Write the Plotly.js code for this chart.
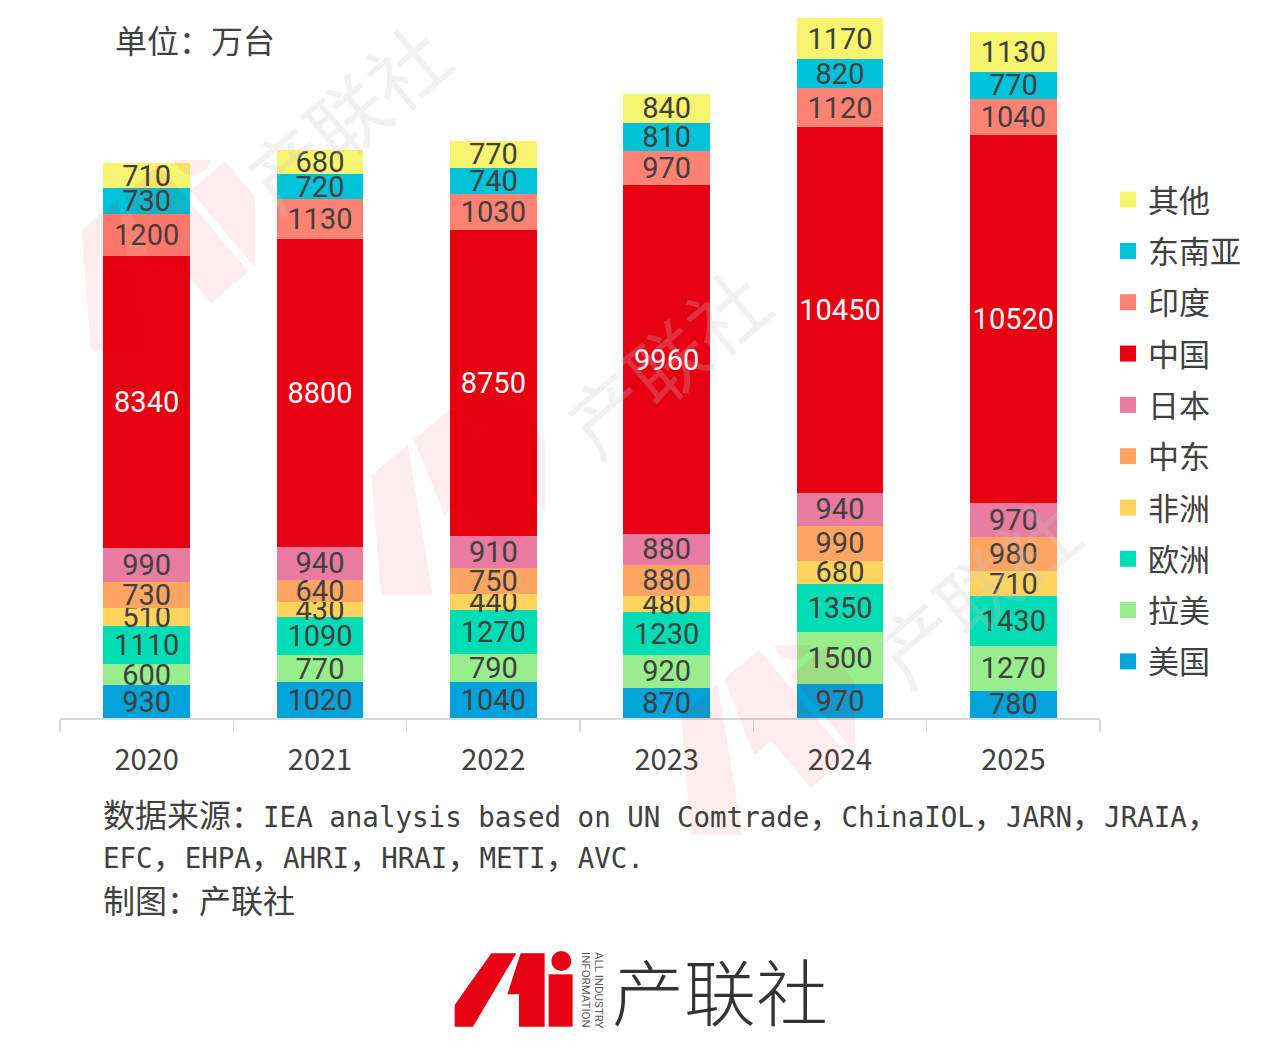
<!DOCTYPE html>
<html>
<head>
<meta charset="utf-8">
<script src="https://cdn.plot.ly/plotly-3.0.1.min.js"></script>
<style>
  html, body { margin: 0; padding: 0; background: #fff; }
  #chart { width: 1268px; height: 1041px; }
</style>
</head>
<body>
<div id="chart"></div>
<script>
// 单位：万台
const years = ['2020', '2021', '2022', '2023', '2024', '2025'];

// stack order, bottom to top
const regions = ['美国', '拉美', '欧洲', '非洲', '中东', '日本', '中国', '印度', '东南亚', '其他'];

const usa         = [930, 1020, 1040, 870, 970, 780];
const latam       = [600, 770, 790, 920, 1500, 1270];
const europe      = [1110, 1090, 1270, 1230, 1350, 1430];
const africa      = [510, 430, 440, 480, 680, 710];
const middleEast  = [730, 640, 750, 880, 990, 980];
const japan       = [990, 940, 910, 880, 940, 970];
const china       = [8340, 8800, 8750, 9960, 10450, 10520];
const india       = [1200, 1130, 1030, 970, 1120, 1040];
const seAsia      = [730, 720, 740, 810, 820, 770];
const others      = [710, 680, 770, 840, 1170, 1130];

const seriesValues = [usa, latam, europe, africa, middleEast, japan, china, india, seAsia, others];
const seriesColors = ['#00A3DA', '#98EE8C', '#00DDB4', '#FFD45E', '#FFA564', '#E87B9F',
                      '#E60012', '#FF8272', '#00C2D8', '#F8F46E'];

const textColor = '#404040';
const cjk = '"Noto Sans CJK SC", "Noto Sans", sans-serif';
const mono = '"DejaVu Sans Mono", monospace';

const traces = [];

// stacked bars, labels kept at full size (uniformtext below)
regions.forEach((name, i) => {
    traces.push({
        type: 'bar',
        name: name,
        x: years,
        y: seriesValues[i],
        text: seriesValues[i].map(String),
        textposition: 'inside',
        insidetextanchor: 'middle',
        textangle: 0,
        textfont: { family: 'Roboto, sans-serif', size: 29, color: name === '中国' ? '#FFFFFF' : textColor },
        marker: { color: seriesColors[i], line: { width: 0 } },
        legendgroup: name,
        showlegend: false,
        hoverinfo: 'x+y+name'
    });
});

// legend entries with bigger square swatches, 其他 on top
regions.forEach((name, i) => {
    traces.push({
        type: 'scatter',
        mode: 'markers',
        name: name,
        x: [null],
        y: [null],
        marker: { symbol: 'square', size: 16, color: seriesColors[i] },
        legendgroup: name,
        legendrank: regions.length - i,
        showlegend: true
    });
});

// logo drawn as inline svg (no network)
const logoShapes =
    '<path d="M20,245 L20,180 C55,130 95,75 130,25 L205,25 L75,245 Z"/>' +
    '<path d="M218,25 L290,25 L290,245 L213,245 L213,148 L178,148 Z"/>' +
    '<circle cx="340" cy="48" r="30"/>' +
    '<rect x="302" y="88" width="72" height="157"/>';
const logoSvg = '<svg xmlns="http://www.w3.org/2000/svg" viewBox="0 0 385 270">' +
    '<g fill="#E60012">' + logoShapes + '</g></svg>';
const logoSrc = 'data:image/svg+xml;charset=utf-8,' + encodeURIComponent(logoSvg);

const wmSvg = '<svg xmlns="http://www.w3.org/2000/svg" viewBox="0 0 300 300">' +
    '<g fill="#E60012" fill-opacity="0.07" transform="translate(150,150) rotate(-40) translate(-200,-135)">' +
    logoShapes + '</g></svg>';
const wmSrc = 'data:image/svg+xml;charset=utf-8,' + encodeURIComponent(wmSvg);

// pixel helpers for paper coords (plot area 60..1100 x 18..718)
const px = v => (v - 60) / 1040;
const py = v => (718 - v) / 700;

const wmText = (x, y) => ({
    xref: 'paper', yref: 'paper', x: px(x), y: py(y),
    xanchor: 'center', yanchor: 'middle',
    text: '产联社', showarrow: false, textangle: -40,
    font: { family: cjk, size: 78, color: 'rgba(200,200,200,0.25)' }
});

const wmLogo = (x, y) => ({
    source: wmSrc, xref: 'paper', yref: 'paper', x: px(x), y: py(y),
    sizex: 190 / 1040, sizey: 190 / 700, xanchor: 'center', yanchor: 'middle',
    sizing: 'stretch', layer: 'above'
});

const cjkSpan = (s, size) =>
    `<span style="font-family:'Noto Sans CJK SC';font-size:${size}px">${s}</span>`;
const comma = cjkSpan('，', 32);

const sourceLine1 = cjkSpan('数据来源：', 32) + 'IEA analysis based on UN Comtrade' + comma +
    'ChinaIOL' + comma + 'JARN' + comma + 'JRAIA' + comma;
const sourceLine2 = ['EFC', 'EHPA', 'AHRI', 'HRAI', 'METI', 'AVC.'].join(comma);

const layout = {
    width: 1268,
    height: 1041,
    margin: { l: 60, r: 168, t: 18, b: 323 },
    paper_bgcolor: '#FFFFFF',
    plot_bgcolor: '#FFFFFF',
    barmode: 'stack',
    bargap: 0.5,
    uniformtext: { mode: 'show', minsize: 29 },
    font: { family: cjk, color: textColor },
    xaxis: {
        type: 'category',
        showline: true,
        linecolor: '#D9D9D9',
        linewidth: 1.5,
        ticks: 'outside',
        tickson: 'boundaries',
        ticklen: 12,
        tickcolor: '#D9D9D9',
        tickwidth: 1.5,
        ticklabelstandoff: 16,
        tickfont: { family: cjk, size: 29, color: textColor },
        showgrid: false,
        zeroline: false
    },
    yaxis: {
        range: [0, 20000],
        visible: false,
        showgrid: false,
        zeroline: false
    },
    showlegend: true,
    legend: {
        x: px(1108),
        xanchor: 'left',
        y: py(173),
        yanchor: 'top',
        traceorder: 'grouped',
        tracegroupgap: 8,
        font: { family: cjk, size: 31, color: textColor },
        bgcolor: 'rgba(0,0,0,0)'
    },
    images: [
        { source: logoSrc, xref: 'paper', yref: 'paper', x: px(448), y: py(945),
          sizex: 128.3 / 1040, sizey: 90 / 700, xanchor: 'left', yanchor: 'top',
          sizing: 'stretch', layer: 'above' },
        wmLogo(160, 255),
        wmLogo(450, 500),
        wmLogo(760, 740)
    ],
    annotations: [
        wmText(345, 115),
        wmText(665, 360),
        wmText(975, 590),
        {
            xref: 'paper', yref: 'paper', x: px(113), y: py(39),
            xanchor: 'left', yanchor: 'middle', showarrow: false,
            text: '单位：万台',
            font: { family: cjk, size: 32, color: textColor }
        },
        {
            xref: 'paper', yref: 'paper', x: px(101), y: py(813),
            xanchor: 'left', yanchor: 'middle', showarrow: false,
            text: sourceLine1,
            font: { family: mono, size: 27.5, color: textColor }
        },
        {
            xref: 'paper', yref: 'paper', x: px(101), y: py(854),
            xanchor: 'left', yanchor: 'middle', showarrow: false,
            text: sourceLine2,
            font: { family: mono, size: 27.5, color: textColor }
        },
        {
            xref: 'paper', yref: 'paper', x: px(101), y: py(899),
            xanchor: 'left', yanchor: 'middle', showarrow: false,
            text: '制图：产联社',
            font: { family: cjk, size: 32, color: textColor }
        },
        {
            xref: 'paper', yref: 'paper', x: px(599), y: py(990),
            xanchor: 'center', yanchor: 'middle', showarrow: false,
            text: 'ALL INDUSTRY', textangle: 90,
            font: { family: 'Roboto, sans-serif', size: 11.5, color: '#5A5A5A' }
        },
        {
            xref: 'paper', yref: 'paper', x: px(586), y: py(990),
            xanchor: 'center', yanchor: 'middle', showarrow: false,
            text: 'INFORMATION', textangle: 90,
            font: { family: 'Roboto, sans-serif', size: 11.5, color: '#5A5A5A' }
        },
        {
            xref: 'paper', yref: 'paper', x: px(720), y: py(988),
            xanchor: 'center', yanchor: 'middle', showarrow: false,
            text: '产联社',
            font: { family: cjk, size: 72, color: '#333333', weight: 300 }
        }
    ]
};

Plotly.newPlot('chart', traces, layout, { displayModeBar: false, staticPlot: true });
</script>
</body>
</html>
